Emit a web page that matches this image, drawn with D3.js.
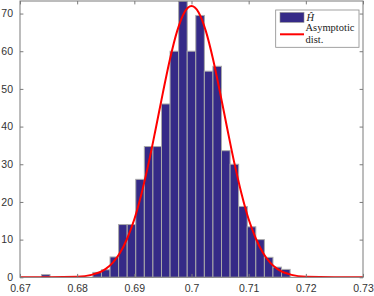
<!DOCTYPE html>
<html><head><meta charset="utf-8">
<script src="https://cdn.jsdelivr.net/npm/d3@7"></script>
<style>html,body{margin:0;padding:0;background:#fff;}svg{display:block;}</style>
</head><body>
<svg id="c" width="374" height="296"></svg>
<script>
// Histogram of H-hat (density-normalised), bin centres and heights
const binCenters = [0.6745, 0.6835, 0.6850, 0.6865, 0.6880, 0.6895, 0.6910, 0.6925, 0.6940, 0.6955, 0.6970, 0.6985,
                    0.7000, 0.7015, 0.7030, 0.7045, 0.7060, 0.7075, 0.7090, 0.7105, 0.7120, 0.7135, 0.7150, 0.7165];
const binHeights = [0.7, 1.3, 2.0, 5.4, 14.0, 14.0, 26.0, 34.7, 34.7, 46.0, 60.0, 73.3,
                    60.0, 69.5, 54.7, 56.0, 33.6, 30.0, 18.8, 13.4, 10.0, 5.3, 2.7, 2.1];
const binWidth = 0.0015;
// Asymptotic distribution curve
const curveX = [0.670, 0.675, 0.680, 0.6825, 0.685, 0.68625, 0.6875, 0.68875, 0.690, 0.69125, 0.6925, 0.69375, 0.695, 0.69625, 0.6975, 0.69875,
                0.700, 0.70125, 0.7025, 0.70375, 0.705, 0.70625, 0.7075, 0.70875, 0.710, 0.71125, 0.7125, 0.71375, 0.715, 0.7175, 0.720, 0.725, 0.730];
const curveY = [0.0, 0.01, 0.15, 0.65, 2.25, 3.9, 6.5, 10.3, 15.4, 22.2, 30.3, 39.5, 49.0, 58.0, 65.4, 70.3,
                72.0, 70.3, 65.4, 58.0, 49.0, 39.5, 30.3, 22.2, 15.4, 10.3, 6.5, 3.9, 2.25, 0.65, 0.15, 0.01, 0.0];
const xTicks = ["0.67", "0.68", "0.69", "0.7", "0.71", "0.72", "0.73"];
const yTicks = [0, 10, 20, 30, 40, 50, 60, 70];
const legendLabels = ["Ĥ", "Asymptotic", "dist."];

const svg = d3.select("#c");
const L = 20, R = 363, T = 1, B = 277.3;
const x = d3.scaleLinear().domain([0.67, 0.73]).range([L, R]);
const y = d3.scaleLinear().domain([0, 73.33]).range([B, T]);

svg.append("defs").append("clipPath").attr("id", "clip")
  .append("rect").attr("x", L).attr("y", T).attr("width", R - L).attr("height", B - T);

const plot = svg.append("g").attr("clip-path", "url(#clip)");
plot.selectAll("rect.bar").data(binCenters).join("rect")
  .attr("class", "bar")
  .attr("x", d => x(d - binWidth / 2))
  .attr("width", d => x(d + binWidth / 2) - x(d - binWidth / 2))
  .attr("y", (d, i) => y(binHeights[i]))
  .attr("height", (d, i) => B - y(binHeights[i]))
  .attr("fill", "#352a87")
  .attr("stroke", "#a9a9a9")
  .attr("stroke-width", 1);

const line = d3.line().x(d => x(d[0])).y(d => y(d[1])).curve(d3.curveMonotoneX);
plot.append("path").datum(curveX.map((v, i) => [v, curveY[i]]))
  .attr("d", line).attr("fill", "none").attr("stroke", "#ff0000").attr("stroke-width", 2);

// axes box and inward ticks
const axisColor = "#7a7a7a";
const tk = 3.4;
const xb = d3.axisBottom(x).tickValues(xTicks.map(Number)).tickSize(-tk).tickPadding(7)
  .tickFormat((d, i) => xTicks[i]);
const gxb = svg.append("g").attr("transform", `translate(0,${B})`).call(xb);
const xt = d3.axisTop(x).tickValues(xTicks.map(Number)).tickSize(-tk).tickFormat("");
const gxt = svg.append("g").attr("transform", `translate(0,${T})`).call(xt);
const yl = d3.axisLeft(y).tickValues(yTicks).tickSize(-tk).tickPadding(7);
const gyl = svg.append("g").attr("transform", `translate(${L},0)`).call(yl);
const yr = d3.axisRight(y).tickValues(yTicks).tickSize(-tk).tickFormat("");
const gyr = svg.append("g").attr("transform", `translate(${R},0)`).call(yr);
[gxb, gxt, gyl, gyr].forEach(g => {
  g.selectAll(".domain").attr("stroke", axisColor).attr("d", null);
  g.select(".domain").remove();
  g.selectAll(".tick line").attr("stroke", axisColor);
  g.selectAll("text").attr("fill", "#333").style("font-family", "'Liberation Sans', Arial, sans-serif").style("font-size", "10.5px");
});
svg.append("rect").attr("x", L).attr("y", T).attr("width", R - L).attr("height", B - T)
  .attr("fill", "none").attr("stroke", axisColor).attr("stroke-width", 1);

// legend
const lg = svg.append("g");
lg.append("rect").attr("x", 275.7).attr("y", 10).attr("width", 83.3).attr("height", 37.3)
  .attr("fill", "#fff").attr("stroke", "#8a8a8a").attr("stroke-width", 0.8);
lg.append("rect").attr("x", 280).attr("y", 12.5).attr("width", 24).attr("height", 9.8)
  .attr("fill", "#352a87").attr("stroke", "#8a8a8a").attr("stroke-width", 0.6);
lg.append("line").attr("x1", 280).attr("x2", 304).attr("y1", 34.3).attr("y2", 34.3)
  .attr("stroke", "#ff0000").attr("stroke-width", 2);
const serif = "'Liberation Serif', 'DejaVu Serif', serif";
lg.append("text").attr("x", 306.5).attr("y", 20.5).text(legendLabels[0])
  .style("font-family", serif).style("font-style", "italic").style("font-size", "10.5px").attr("fill", "#222");
lg.append("text").attr("x", 305.5).attr("y", 31).text(legendLabels[1])
  .style("font-family", serif).style("font-size", "10.5px").attr("fill", "#222");
lg.append("text").attr("x", 305.5).attr("y", 43).text(legendLabels[2])
  .style("font-family", serif).style("font-size", "10.5px").attr("fill", "#222");
</script>
</body></html>
